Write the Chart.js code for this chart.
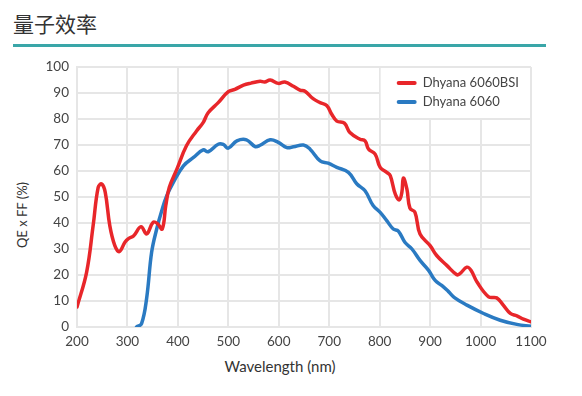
<!DOCTYPE html>
<html>
<head>
<meta charset="utf-8">
<script src="https://cdn.jsdelivr.net/npm/chart.js@4"></script>
<style>
  body { margin: 0; background: #fff; width: 582px; height: 396px; overflow: hidden; position: relative; }
  #title { position: absolute; left: 13px; top: 8px; font: 21px "Noto Sans CJK SC", sans-serif; color: #333; }
  #rule { position: absolute; left: 13px; top: 44px; width: 533px; height: 3px; background: #3aa6a8; }
  #xtitle { position: absolute; left: 0; width: 560px; text-align: center; top: 357px; font: 15px Lato, sans-serif; color: #333; }
  #ytitle { position: absolute; left: 22px; top: 215px; transform: translate(-50%, -50%) rotate(-90deg); white-space: nowrap; font: 13px Lato, sans-serif; color: #333; }
  canvas { position: absolute; left: 0; top: 0; }
</style>
</head>
<body>
<div id="title">量子效率</div>
<div id="rule"></div>
<div id="ytitle">QE x FF (%)</div>
<div id="xtitle">Wavelength (nm)</div>
<canvas id="qe" width="582" height="396"></canvas>
<script>
// Dhyana 6060BSI
const bsiWl = [200, 219, 232, 242, 249, 256, 265, 275, 284, 295, 302, 312, 327, 338, 351, 360, 369, 376, 383, 398,
    417, 437, 450, 460, 480, 500, 513, 530, 545, 563, 572, 583, 599, 612, 629, 642, 652, 668, 682, 695,
    705, 715, 730, 741, 761, 771, 778, 791, 801, 814, 821, 831, 839, 844, 847, 854, 860, 870, 880, 900,
    913, 933, 953, 959, 973, 981, 993, 1016, 1032, 1045, 1059, 1072, 1085, 1100];
const bsiQe = [7.7, 21, 39, 53.7, 55, 51.8, 39, 31.3, 29, 32.6, 34, 35, 38.6, 35.8, 40.3, 39.7, 37.7, 46.7, 53.7, 60.7,
    69.7, 75.4, 78.6, 82.4, 86.3, 90.5, 91.4, 93, 93.8, 94.5, 94.2, 95, 93.7, 94.2, 92.6, 91.1, 90.7, 87.8, 86.3, 85.2,
    81.8, 79.2, 78.4, 74.8, 72.2, 71.6, 68.4, 66.5, 61.4, 59.5, 58.2, 51.1, 48.9, 51.8, 57.3, 53, 45.7, 44.1, 35.8, 31.3,
    27.5, 23.7, 20.1, 20.5, 23, 21.8, 17.3, 11.6, 11.2, 8.4, 5.2, 4.3, 3, 2];

// Dhyana 6060
const fsiWl = [318, 328, 338, 348, 358, 368, 378, 391, 411, 431, 450, 460, 480, 490, 500, 517, 536, 553, 563, 583,
    599, 616, 629, 649, 662, 682, 698, 715, 738, 755, 771, 787, 801, 814, 827, 837, 850, 864, 880, 897,
    910, 923, 936, 949, 973, 1006, 1039, 1072, 1100];
const fsiQe = [0, 1.3, 11, 28.8, 37.7, 44.7, 50.5, 55.6, 62, 65.2, 68.1, 67.4, 70.3, 70.2, 68.8, 71.6, 72, 69.4, 69.9, 72,
    71, 69, 69.3, 70, 68.4, 63.9, 63, 61.4, 59.5, 55, 52.4, 46.7, 44.1, 40.9, 37.7, 36.9, 32.6, 30, 25.6, 21.8,
    17.9, 16, 13.7, 11.2, 8.4, 5.2, 2.6, 1, 0.3];

const seriesNames = ['Dhyana 6060BSI', 'Dhyana 6060'];
const seriesColors = ['#e8262a', '#2a7ac2'];

const xTicks = [200, 300, 400, 500, 600, 700, 800, 900, 1000, 1100];

const toPoints = (xs, ys) => xs.map((x, i) => ({x: x, y: ys[i]}));

// легенда в правом верхнем углу, поверх сетки
const boxLegend = {
    id: 'boxLegend',
    beforeDatasetsDraw(chart) {
        const {ctx, scales: {x, y}} = chart;
        const left = x.getPixelForValue(800), right = x.getPixelForValue(1100);
        const top = y.getPixelForValue(100), bottom = y.getPixelForValue(80);
        ctx.save();
        ctx.fillStyle = '#fff';
        ctx.fillRect(left + 1, top + 1, right - left - 2, bottom - top - 2);
        ctx.font = '13px Lato, sans-serif';
        ctx.textBaseline = 'middle';
        ctx.lineCap = 'round';
        ctx.lineWidth = 4;
        seriesNames.forEach((name, i) => {
            const cy = top + 16 + i * 19;
            ctx.strokeStyle = seriesColors[i];
            ctx.beginPath();
            ctx.moveTo(left + 19, cy);
            ctx.lineTo(left + 35, cy);
            ctx.stroke();
            ctx.fillStyle = '#444';
            ctx.fillText(name, left + 43, cy);
        });
        ctx.restore();
    }
};

new Chart(document.getElementById('qe').getContext('2d'), {
    type: 'line',
    data: {
        datasets: [
            {label: seriesNames[0], data: toPoints(bsiWl, bsiQe), borderColor: seriesColors[0]},
            {label: seriesNames[1], data: toPoints(fsiWl, fsiQe), borderColor: seriesColors[1]}
        ]
    },
    options: {
        responsive: false,
        animation: false,
        parsing: false,
        elements: {
            point: {radius: 0},
            line: {borderWidth: 3.5, tension: 0.4, borderCapStyle: 'round', borderJoinStyle: 'round'}
        },
        layout: {padding: {top: 67, right: 51, left: 0, bottom: 0}},
        plugins: {legend: {display: false}, tooltip: {enabled: false}},
        scales: {
            x: {
                type: 'linear', min: 200, max: 1100,
                afterBuildTicks: (s) => { s.ticks = xTicks.map(v => ({value: v})); },
                afterFit: (s) => { s.height = 69; },
                grid: {color: '#e6e6e6', lineWidth: 2, drawTicks: false},
                border: {color: '#e6e6e6', width: 2},
                ticks: {padding: 7, color: '#444', font: {family: 'Lato', size: 13.5}, maxRotation: 0,
                    callback: (v) => String(v)}
            },
            y: {
                min: 0, max: 100,
                ticks: {stepSize: 10, padding: 8, color: '#444', font: {family: 'Lato', size: 13.5}},
                afterFit: (s) => { s.width = 77; },
                grid: {color: '#e6e6e6', lineWidth: 2, drawTicks: false},
                border: {color: '#e6e6e6', width: 2}
            }
        }
    },
    plugins: [boxLegend]
});
</script>
</body>
</html>
